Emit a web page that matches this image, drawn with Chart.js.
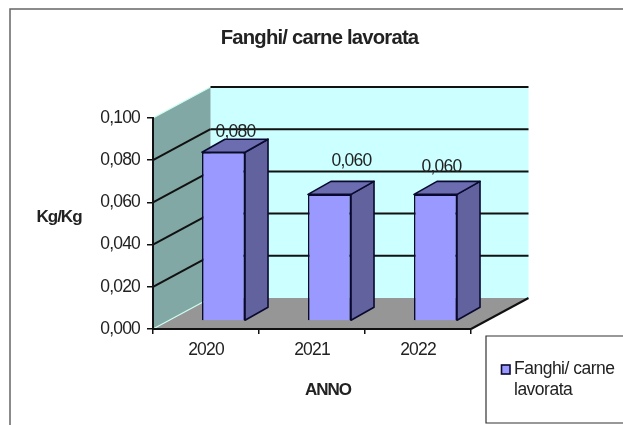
<!DOCTYPE html>
<html><head><meta charset="utf-8">
<style>html,body{margin:0;padding:0;background:#fff}canvas{display:block}</style>
<script src="https://cdn.jsdelivr.net/npm/chart.js@4"></script></head>
<body><canvas id="c" width="623" height="425"></canvas>
<script>
const categories = ['2020', '2021', '2022'];
const seriesName = 'Fanghi/ carne lavorata';
const values = [0.08, 0.06, 0.06];
const yTicks = [0, 0.02, 0.04, 0.06, 0.08, 0.1];
const titleText = 'Fanghi/ carne lavorata';
const xTitle = 'ANNO';
const yTitle = 'Kg/Kg';

const FONT = '"Liberation Sans", Arial, sans-serif';
const TEXT = '#222';
const WALL_DX = 57.5, WALL_DY = -31;    // depth of the 3D box
const BAR_DX = 17.5, BAR_DY = -8;       // bar inset from the front plane
const SIDE_DX = 23, SIDE_DY = -13;      // depth of a bar
const LABEL_SHIFT = [[12, -7], [22, -20], [6, -14]];
const TITLE_SHIFT = 7.5;
const TXT = 17.5;
const SQUEEZE = '-0.8px';               // the reference text is horizontally condensed
const fmt = v => v.toFixed(3).replace('.', ',');

function poly(ctx, pts, fill, stroke, lw) {
  ctx.beginPath();
  pts.forEach((p, i) => i ? ctx.lineTo(p[0], p[1]) : ctx.moveTo(p[0], p[1]));
  ctx.closePath();
  if (fill) { ctx.fillStyle = fill; ctx.fill(); }
  if (stroke) { ctx.strokeStyle = stroke; ctx.lineWidth = lw; ctx.lineJoin = 'round'; ctx.stroke(); }
}
function seg(ctx, x1, y1, x2, y2, c, lw) {
  ctx.beginPath(); ctx.moveTo(x1, y1); ctx.lineTo(x2, y2);
  ctx.strokeStyle = c; ctx.lineWidth = lw; ctx.stroke();
}

const box3d = {
  id: 'box3d',
  afterLayout(chart) {
    chart.titleBlock.left += TITLE_SHIFT;
    chart.titleBlock.right += TITLE_SHIFT;
  },
  beforeDraw(chart) {
    const { ctx, scales: { x, y } } = chart;
    const L = x.left, R = x.right, y0 = y.getPixelForValue(0), yT = y.getPixelForValue(yTicks[yTicks.length - 1]);
    ctx.save();
    // outer frame
    ctx.strokeStyle = '#666'; ctx.lineWidth = 1.5;
    ctx.beginPath(); ctx.moveTo(10, 425); ctx.lineTo(10, 9); ctx.lineTo(623, 9); ctx.stroke();
    // back wall
    poly(ctx, [[L + WALL_DX, yT + WALL_DY], [R + WALL_DX, yT + WALL_DY], [R + WALL_DX, y0 + WALL_DY], [L + WALL_DX, y0 + WALL_DY]], '#ccffff');
    // side wall
    poly(ctx, [[L, yT], [L + WALL_DX, yT + WALL_DY], [L + WALL_DX, y0 + WALL_DY], [L, y0]], '#82a8a6');
    // floor
    poly(ctx, [[L, y0], [R, y0], [R + WALL_DX, y0 + WALL_DY], [L + WALL_DX, y0 + WALL_DY]], '#969696');
    // light edges of side wall
    seg(ctx, L, y0, L + WALL_DX, y0 + WALL_DY, '#ccffee', 1.2);
    seg(ctx, L, yT, L + WALL_DX, yT + WALL_DY, '#ccffee', 1.2);
    // gridlines
    yTicks.forEach(v => {
      const py = y.getPixelForValue(v);
      if (v > 0) seg(ctx, L + WALL_DX, py + WALL_DY, R + WALL_DX, py + WALL_DY, '#111', 2);
      if (v > 0 && py !== yT) seg(ctx, L, py, L + WALL_DX, py + WALL_DY, '#111', 2);
    });
    // right floor edge
    seg(ctx, R, y0, R + WALL_DX, y0 + WALL_DY, '#111', 2);
    ctx.restore();
    ctx.letterSpacing = SQUEEZE;
  },
  beforeDatasetsDraw(chart) {
    chart.ctx.save();
    chart.ctx.translate(BAR_DX, BAR_DY);
  },
  afterDatasetsDraw(chart) {
    const { ctx } = chart;
    chart.getDatasetMeta(0).data.forEach(bar => {
      const l = bar.x - bar.width / 2, r = bar.x + bar.width / 2, t = bar.y, b = bar.base;
      poly(ctx, [[r, t], [r + SIDE_DX, t + SIDE_DY], [r + SIDE_DX, b + SIDE_DY], [r, b]], '#62629f', '#0a0a30', 1.6);
      poly(ctx, [[l, t], [l + SIDE_DX, t + SIDE_DY], [r + SIDE_DX, t + SIDE_DY], [r, t]], '#6c6cb0', '#0a0a30', 1.6);
    });
    ctx.restore();
  },
  afterDraw(chart) {
    const { ctx } = chart;
    ctx.save();
    ctx.fillStyle = TEXT; ctx.textBaseline = 'middle'; ctx.textAlign = 'center';
    // value labels
    ctx.font = TXT + 'px ' + FONT;
    chart.getDatasetMeta(0).data.forEach((bar, i) => {
      ctx.fillText(fmt(values[i]), bar.x + BAR_DX + LABEL_SHIFT[i][0], bar.y + BAR_DY + SIDE_DY + LABEL_SHIFT[i][1]);
    });
    // axis titles
    ctx.font = 'bold 17px ' + FONT;
    ctx.letterSpacing = '-1px';
    ctx.fillText(yTitle, 59, 217);
    ctx.fillText(xTitle, 328, 390);
    // legend
    const bx = 486, by = 336, bw = 137, bh = 87;
    ctx.strokeStyle = '#333'; ctx.lineWidth = 1.2;
    ctx.beginPath(); ctx.moveTo(bx + bw, by); ctx.lineTo(bx, by); ctx.lineTo(bx, by + bh); ctx.lineTo(bx + bw, by + bh); ctx.stroke();
    ctx.fillStyle = '#9999ff'; ctx.strokeStyle = '#0a0a30'; ctx.lineWidth = 1.6;
    ctx.fillRect(501.5, 365, 8.5, 9); ctx.strokeRect(501.5, 365, 8.5, 9);
    ctx.fillStyle = TEXT; ctx.textAlign = 'left'; ctx.font = TXT + 'px ' + FONT;
    ctx.letterSpacing = '-0.5px';
    const words = seriesName.split(' ');
    ctx.fillText(words.slice(0, 2).join(' '), 514, 369);
    ctx.fillText(words.slice(2).join(' '), 514, 390);
    ctx.restore();
  }
};

new Chart(document.getElementById('c'), {
  type: 'bar',
  data: {
    labels: categories,
    datasets: [{
      label: seriesName, data: values,
      backgroundColor: '#9999ff', borderColor: '#0a0a30', borderWidth: 1.6,
      categoryPercentage: 1, barPercentage: 0.406, clip: false
    }]
  },
  options: {
    responsive: false, animation: false,
    layout: { padding: { left: 10, right: 152, top: 0, bottom: 0 } },
    plugins: {
      legend: { display: false }, tooltip: { enabled: false },
      title: {
        display: true, text: titleText, color: TEXT, fullSize: false,
        font: { family: FONT, size: 20.3, weight: 'bold', lineHeight: 1 },
        padding: { top: 28, bottom: 69.7 }
      }
    },
    scales: {
      x: {
        afterFit(s) { s.height = 96; },
        grid: { offset: true, drawOnChartArea: false, drawTicks: true, tickLength: 5, color: '#111', lineWidth: 1.5 },
        border: { color: '#111', width: 2 },
        ticks: { color: TEXT, font: { family: FONT, size: TXT }, padding: 6, maxRotation: 0 }
      },
      y: {
        min: 0, max: 0.1,
        afterFit(s) { s.width = 143; },
        afterBuildTicks(s) { s.ticks = yTicks.map(v => ({ value: v })); },
        grid: { drawOnChartArea: false, tickLength: 6, color: '#111', lineWidth: 1.5 },
        border: { color: '#111', width: 2 },
        ticks: { color: TEXT, font: { family: FONT, size: TXT }, padding: 7, callback: v => fmt(v) }
      }
    }
  },
  plugins: [box3d]
});
</script></body></html>
